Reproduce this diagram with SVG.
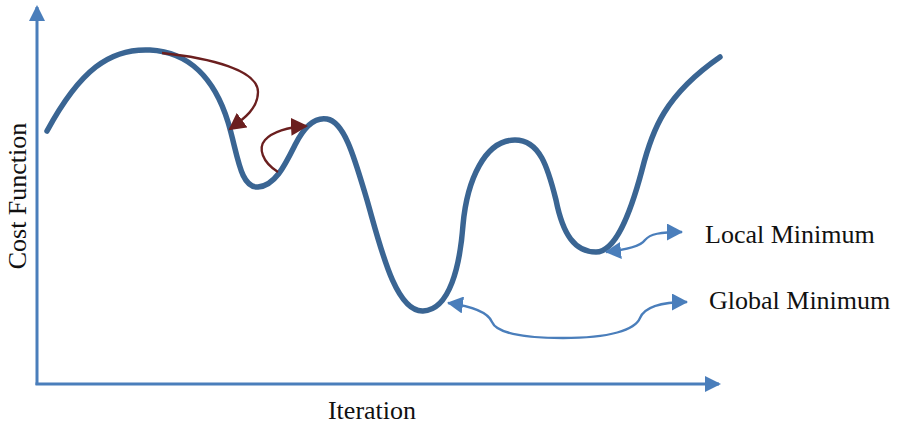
<svg xmlns="http://www.w3.org/2000/svg" width="900" height="428" viewBox="0 0 900 428">
<style>
.axis{fill:none;stroke:#4A7EBB;stroke-width:3}
.curve{fill:none;stroke:#3A6593;stroke-width:5.5;stroke-linecap:round;stroke-linejoin:round}
.red{fill:none;stroke:#6B1F1F;stroke-width:2.3}
.blue{fill:none;stroke:#4A7EBB;stroke-width:2.3}
.lbl{font-family:"Liberation Serif","Times New Roman",serif;font-size:26px;fill:#111}
</style>
<defs>
<marker id="axHead" markerUnits="userSpaceOnUse" markerWidth="16" markerHeight="16" refX="14" refY="8" orient="auto"><path d="M0,0 L16,8 L0,16 z" fill="#4A7EBB"/></marker>
<marker id="redHead" markerUnits="userSpaceOnUse" markerWidth="18" markerHeight="18" refX="15" refY="9" orient="auto"><path d="M0,0 L17,9 L0,18 z" fill="#6B1F1F"/></marker>
<marker id="blueHead" markerUnits="userSpaceOnUse" markerWidth="17" markerHeight="17" refX="15" refY="8.5" orient="auto-start-reverse"><path d="M0,0 L16,8.5 L0,17 z" fill="#4A7EBB"/></marker>
</defs>
<g id="axes">
<line class="axis" x1="37" y1="385" x2="37" y2="7" marker-end="url(#axHead)"/>
<line class="axis" x1="35.5" y1="384" x2="719" y2="384" marker-end="url(#axHead)"/>
</g>
<g id="cost-curve">
<path class="curve" d="M47,131 C80,70 110,48 150,50 C190,52 215,80 228,122 C238,155 240,188 258,187 C275,186 285,165 295,145 C305,125 315,117 327,119 C345,122 355,160 367,200 C380,245 395,312 423,311 C450,310 460,265 463,225 C467,180 485,140 515,140 C540,140 548,168 556,200 C563,235 575,252 596,252 C615,252 630,215 642,170 C652,130 665,95 720,57"/>
</g>
<g id="connectors">
<path class="red" d="M162,53 C210,58 258,70 258,92 C258,108 245,118 230,129" marker-end="url(#redHead)"/>
<path class="red" d="M278,172 C262,162 258,148 265,140 C272,132 288,127 306,126" marker-end="url(#redHead)"/>
<path class="blue" d="M606,252 C625,250 640,247 645,240 C650,234 660,232 682,232" marker-start="url(#blueHead)" marker-end="url(#blueHead)"/>
<path class="blue" d="M448,303 C470,306 488,312 492,322 C496,332 520,338 563,338 C610,338 635,330 640,318 C645,306 665,302 687,302" marker-start="url(#blueHead)" marker-end="url(#blueHead)"/>
</g>
<g id="labels">
<text class="lbl" x="705" y="243">Local Minimum</text>
<text class="lbl" x="709" y="309">Global Minimum</text>
<text class="lbl" x="372" y="419" text-anchor="middle">Iteration</text>
<text class="lbl" transform="translate(26,196) rotate(-90)" text-anchor="middle">Cost Function</text>
</g>
</svg>
